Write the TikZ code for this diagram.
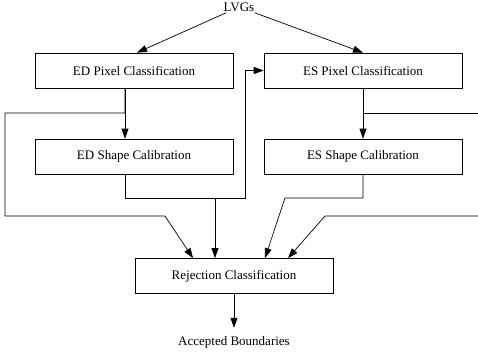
\documentclass[tikz,border=0pt]{standalone}
\usepackage{fontspec}
\setmainfont{Liberation Serif}
\usetikzlibrary{arrows.meta}
\begin{document}
\begin{tikzpicture}[x=1pt,y=-1pt,
  line width=0.7pt,
  every node/.style={font=\fontsize{13}{15}\selectfont},
  box/.style={draw, minimum width=198pt, minimum height=35pt, inner sep=0pt},
  lbl/.style={inner sep=1pt},
  arr/.style={-{Triangle[length=10pt,width=7pt]}}]
\useasboundingbox (0,0) rectangle (478,354);
\node[lbl] (lvg) at (239,7) {LVGs};
\node[box] (edp) at (134,70.5) {ED Pixel Classification};
\node[box] (esp) at (363,70.5) {ES Pixel Classification};
\node[box] (eds) at (134,156.5) {ED Shape Calibration};
\node[box] (ess) at (363,156.5) {ES Shape Calibration};
\node[box] (rej) at (234,276) {Rejection Classification};
\node[lbl] (acc) at (234,342) {Accepted Boundaries};
\coordinate (rtop) at (478,113);
\coordinate (rbot) at (478,216);
% LVGs
\draw[arr] (lvg) -- ([xshift=3pt]edp.north);
\draw[arr] (lvg) -- (esp.north);
% ED pixel
\draw[arr] ([xshift=-9pt]edp.south) -- ([xshift=-9pt]eds.north);
\draw[arr] ([xshift=-9pt]edp.south) |- (5,113) -- (5,216) -- (165,216) -- ([xshift=-41pt]rej.north);
% ED shape
\draw[arr] ([xshift=-9pt]eds.south) |- (215,198) -- ([xshift=-19pt]rej.north);
\draw[arr] ([xshift=-9pt]eds.south) |- (245,198) |- (esp.west);
% ES pixel
\draw[arr] (esp.south) -- (ess.north);
\draw (esp.south) |- (rtop);
\draw[arr] (rbot) -- (325,216) -- ([xshift=54pt]rej.north);
% ES shape
\draw[arr] (ess.south) |- (285,198) -- ([xshift=31pt]rej.north);
% Rejection
\draw[arr] (rej) -- ([yshift=7pt]acc.north);
\end{tikzpicture}
\end{document}
